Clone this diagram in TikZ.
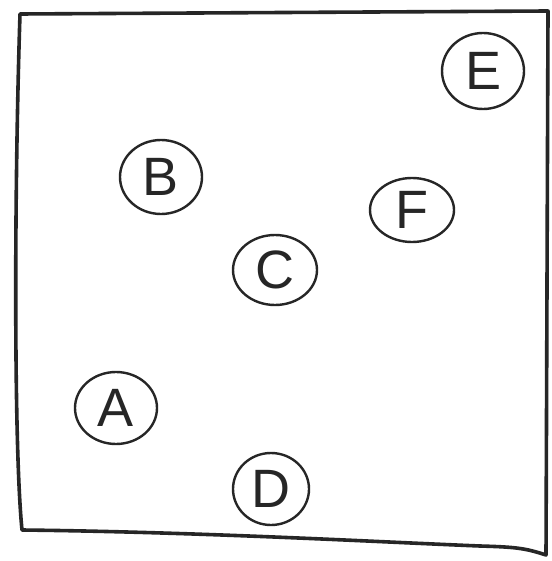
\documentclass[tikz,border=0pt]{standalone}
\usepackage{fontspec}
\setmainfont{Liberation Sans}
\usetikzlibrary{shapes.geometric}
\begin{document}
\begin{tikzpicture}[x=1pt,y=-1pt,
  frame/.style={line width=3.6pt, line join=round, line cap=round, black!85},
  letter/.style={ellipse, draw=black!85, line width=2.4pt, inner sep=0pt,
    font=\fontsize{54}{54}\selectfont, text=black!85}]
\useasboundingbox (0,0) rectangle (551,561);
\fill[white] (0,0) rectangle (551,561);
\coordinate (tl) at (20,14);
\coordinate (tr) at (548,11);
\coordinate (br) at (546,555);
\coordinate (bl) at (22,530);
\draw[frame] (tl) -- (tr) -- (br) .. controls (525,548) and (515,547) .. (480,546)
  .. controls (380,542) and (200,532) .. (bl) .. controls (14,450) and (14,200) .. (tl);
\node[letter, minimum width=82pt, minimum height=74pt] (B) at (161,177) {B};
\node[letter, minimum width=84pt, minimum height=70pt] (C) at (275,270) {C};
\node[letter, minimum width=82pt, minimum height=76pt] (E) at (483,71) {E};
\node[letter, minimum width=84pt, minimum height=64pt] (F) at (412,210) {F};
\node[letter, minimum width=82pt, minimum height=72pt] (A) at (116,408) {A};
\node[letter, minimum width=76pt, minimum height=72pt] (D) at (271,489) {D};
\end{tikzpicture}
\end{document}
